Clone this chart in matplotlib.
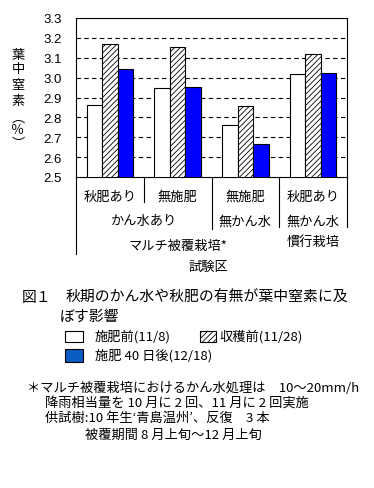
import matplotlib
matplotlib.use("Agg")
import matplotlib.pyplot as plt
from matplotlib.patches import Rectangle
import numpy as np

plt.rcParams['font.family'] = ['Noto Sans CJK JP', 'DejaVu Sans']
plt.rcParams['hatch.linewidth'] = 0.6

# ---- data ----
groups = ['秋肥あり', '無施肥', '無施肥', '秋肥あり']
water = ['かん水あり', '無かん水', '無かん水']
culture = ['マルチ被覆栽培*', '慣行栽培']
before_fert = [2.86, 2.95, 2.76, 3.02]    # 施肥前(11/8)
before_harv = [3.17, 3.155, 2.855, 3.12]  # 収穫前(11/28)
after_40d = [3.045, 2.955, 2.665, 3.025]  # 施肥40日後(12/18)
yticks = [2.5, 2.6, 2.7, 2.8, 2.9, 3.0, 3.1, 3.2, 3.3]

W, H = 374, 489
fig = plt.figure(figsize=(W / 100, H / 100), dpi=100)


def fx(px):
    return px / W


def fy(py):
    return 1 - py / H


ax = fig.add_axes([fx(76), fy(178), fx(347) - fx(76), (178 - 19) / H])

x = np.arange(len(groups))
bw = 0.23
ax.bar(x - bw, before_fert, bw, color='white', edgecolor='black', linewidth=0.8, zorder=3)
ax.bar(x, before_harv, bw, color='white', edgecolor='black', hatch='//////', linewidth=0.8, zorder=3)
ax.bar(x + bw, after_40d, bw, color='#0000ff', edgecolor='black', linewidth=0.8, zorder=3)

ax.set_xlim(-0.5, 3.5)
ax.set_ylim(2.5, 3.3)
ax.set_yticks(yticks)
ax.set_yticklabels([f'{v:.1f}' for v in yticks], family='Liberation Sans', fontsize=9.5)
ax.tick_params(axis='y', length=0, pad=10)
ax.set_xticks([])
for yv in yticks[1:-1]:
    ax.axhline(yv, color='black', linewidth=0.8, linestyle=(0, (4, 3)), zorder=1)
for s in ax.spines.values():
    s.set_linewidth(0.8)

# category table below axis
tr = ax.get_xaxis_transform()
ph = 178 - 19


def ay(py):
    return (178 - py) / ph


for xb, yend in [(-0.5, 255), (0.5, 203), (1.5, 230), (2.5, 228), (3.5, 228)]:
    ax.plot([xb, xb], [0, ay(yend)], color='black', linewidth=0.8, transform=tr, clip_on=False)

for i, g in enumerate(groups):
    ax.text(i, ay(197), g, transform=tr, ha='center', va='center', fontsize=9.5)
ax.text(0.5, ay(222), water[0], transform=tr, ha='center', va='center', fontsize=9.5)
ax.text(2, ay(222), water[1], transform=tr, ha='center', va='center', fontsize=9.5)
ax.text(3, ay(222), water[2], transform=tr, ha='center', va='center', fontsize=9.5)
ax.text(1.0, ay(246), culture[0], transform=tr, ha='center', va='center', fontsize=9.5)
ax.text(3, ay(242), culture[1], transform=tr, ha='center', va='center', fontsize=9.5)
ax.text(1.45, ay(267), '試験区', transform=tr, ha='center', va='center', fontsize=9.5)

# y label (vertical writing)
ylab = ['葉', '中', '窒', '素', '︵', '％', '︶']
ypos = [55, 70, 86, 102, 118, 131, 145]
for ch, py in zip(ylab, ypos):
    fig.text(fx(18), fy(py), ch, ha='center', va='center', fontsize=9.5)

# caption
fig.text(fx(22), fy(298), '図１', ha='left', va='center', fontsize=10.7)
fig.text(fx(66), fy(298), '秋期のかん水や秋肥の有無が葉中窒素に及', ha='left', va='center', fontsize=10.7)
fig.text(fx(60), fy(317), 'ぼす影響', ha='left', va='center', fontsize=10.7)

# legend
fig.add_artist(Rectangle((fx(65), fy(343)), fx(83) - fx(65), (343 - 332) / H,
                         transform=fig.transFigure, facecolor='white', edgecolor='black', linewidth=0.8))
fig.add_artist(Rectangle((fx(200), fy(343)), fx(216) - fx(200), (343 - 332) / H,
                         transform=fig.transFigure, facecolor='white', edgecolor='black',
                         hatch='//////', linewidth=0.8))
fig.add_artist(Rectangle((fx(65), fy(363)), fx(83) - fx(65), (363 - 350) / H,
                         transform=fig.transFigure, facecolor='#0a5cc4', edgecolor='black', linewidth=0.8))
fig.text(fx(95), fy(337), '施肥前(11/8)', ha='left', va='center', fontsize=9.5)
fig.text(fx(220), fy(337), '収穫前(11/28)', ha='left', va='center', fontsize=9.5)
fig.text(fx(95), fy(356), '施肥 40 日後(12/18)', ha='left', va='center', fontsize=9.5)

# footnote
notes = [
    (27, 388, '＊マルチ被覆栽培におけるかん水処理は　10～20mm/h'),
    (45, 403, '降雨相当量を 10 月に 2 回、11 月に 2 回実施'),
    (45, 418, '供試樹:10 年生‘青島温州’、反復　3 本'),
    (85, 435, '被覆期間 8 月上旬～12 月上旬'),
]
for px, py, t in notes:
    fig.text(fx(px), fy(py), t, ha='left', va='center', fontsize=9.5)

fig.savefig('out.png', dpi=100)
